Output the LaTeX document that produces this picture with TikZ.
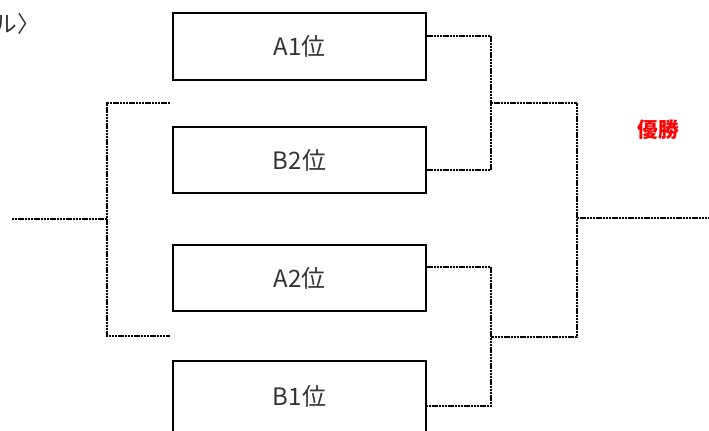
\documentclass[tikz,border=0pt]{standalone}
\usepackage{fontspec}
\newfontfamily\jpfont{Noto Sans CJK JP}
\usepackage{tikz}
\usetikzlibrary{calc, positioning}
\usepackage{xcolor}
\definecolor{winred}{RGB}{255,0,0}
\tikzset{
	team/.style={rectangle, draw, line width=1.5pt, minimum width=190pt, minimum height=50pt, inner sep=0pt, text=black!80, font=\jpfont\fontsize{18}{20}\selectfont},
	bracket/.style={draw, line width=1.2pt, dash pattern=on 1.8pt off 0.6pt},
	label/.style={inner sep=0pt}
}
\begin{document}
\begin{tikzpicture}[x=0.75pt,y=-0.75pt]
			\clip (0,0) rectangle (709,430);
			% Teams
			\node[team] (A1) at (299.5,46.5) {A1位};
			\node[team] (B2) at (299.5,160) {B2位};
			\node[team] (A2) at (299.5,278) {A2位};
			\node[team, minimum height=53pt] (B1) at (299.5,396.5) {B1位};
			% Title (cut off) and winner
			\node[label, anchor=east, font=\jpfont\fontsize{17}{19}\selectfont, text=black!80] (title) at (40,24) {ル〉};
			\node[label, font=\jpfont\bfseries\fontsize{15.5}{18}\selectfont, text=winred] (win) at (658,130) {優勝};
			% Junctions
			\coordinate (m1) at (491,103);
			\coordinate (m2) at (491,337);
			\coordinate (fin) at (577,218);
			\coordinate (out) at (709,218);
			\coordinate (l1) at (170,103);
			\coordinate (l2) at (170,336);
			\coordinate (lj) at (107,219);
			\coordinate (lin) at (12,219);
			% Connections
			\draw[bracket] ($(A1.east)+(0,-10.5)$) -| (m1) |- ($(B2.east)+(0,10)$);
			\draw[bracket] ($(A2.east)+(0,-11)$) -| (m2) |- ($(B1.east)+(0,9.5)$);
			\draw[bracket] (m1) -| (fin) |- (m2);
			\draw[bracket] (fin) -- (out);
			\draw[bracket] (l1) -| (lj) |- (l2);
			\draw[bracket] (lj) -- (lin);
		\end{tikzpicture}
\end{document}
